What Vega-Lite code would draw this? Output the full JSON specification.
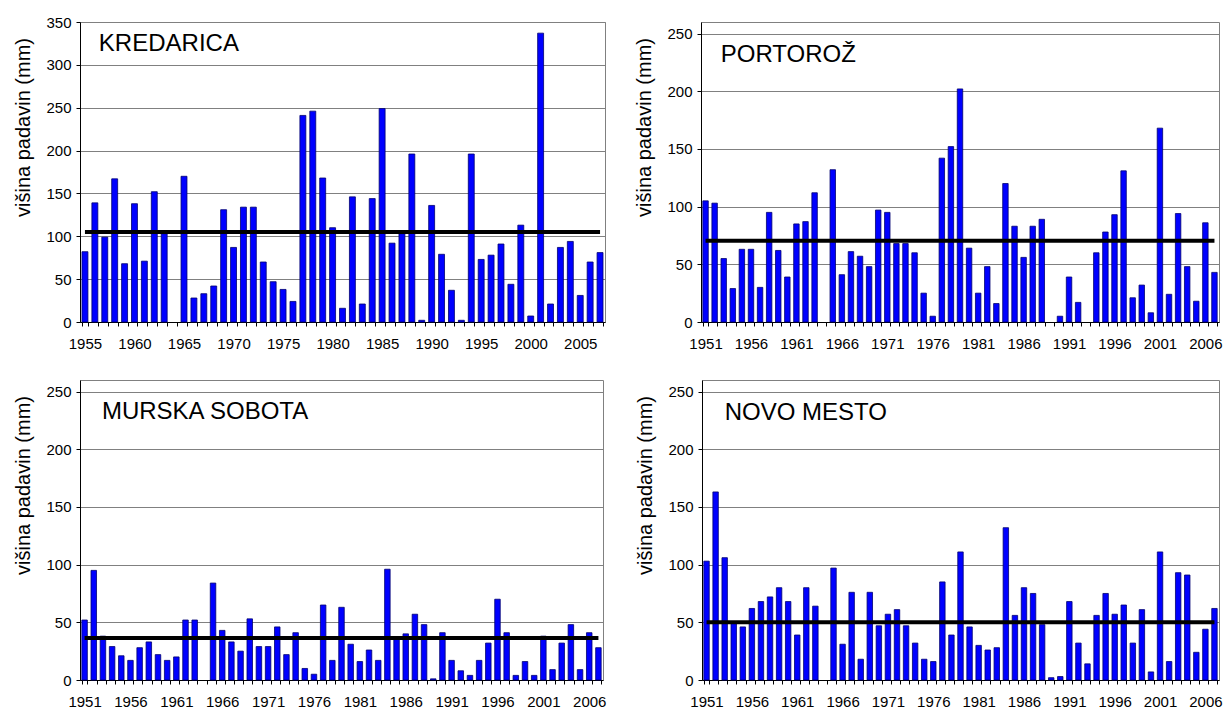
{
  "$schema": "https://vega.github.io/schema/vega-lite/v6.json",
  "background": "white",
  "padding": {"left": 12, "top": 14, "right": 0, "bottom": 0},
  "datasets": {
    "kredarica": [
      {"year":1955,"mm":82},{"year":1956,"mm":139},{"year":1957,"mm":99},{"year":1958,"mm":167},{"year":1959,"mm":68},
      {"year":1960,"mm":138},{"year":1961,"mm":71},{"year":1962,"mm":152},{"year":1963,"mm":103},{"year":1964,"mm":null},
      {"year":1965,"mm":170},{"year":1966,"mm":28},{"year":1967,"mm":33},{"year":1968,"mm":42},{"year":1969,"mm":131},
      {"year":1970,"mm":87},{"year":1971,"mm":134},{"year":1972,"mm":134},{"year":1973,"mm":70},{"year":1974,"mm":47},
      {"year":1975,"mm":38},{"year":1976,"mm":24},{"year":1977,"mm":241},{"year":1978,"mm":246},{"year":1979,"mm":168},
      {"year":1980,"mm":110},{"year":1981,"mm":16},{"year":1982,"mm":146},{"year":1983,"mm":21},{"year":1984,"mm":144},
      {"year":1985,"mm":249},{"year":1986,"mm":92},{"year":1987,"mm":103},{"year":1988,"mm":196},{"year":1989,"mm":2},
      {"year":1990,"mm":136},{"year":1991,"mm":79},{"year":1992,"mm":37},{"year":1993,"mm":2},{"year":1994,"mm":196},
      {"year":1995,"mm":73},{"year":1996,"mm":78},{"year":1997,"mm":91},{"year":1998,"mm":44},{"year":1999,"mm":113},
      {"year":2000,"mm":7},{"year":2001,"mm":337},{"year":2002,"mm":21},{"year":2003,"mm":87},{"year":2004,"mm":94},
      {"year":2005,"mm":31},{"year":2006,"mm":70},{"year":2007,"mm":81}
    ],
    "portoroz": [
      {"year":1951,"mm":105},{"year":1952,"mm":103},{"year":1953,"mm":55},{"year":1954,"mm":29},{"year":1955,"mm":63},
      {"year":1956,"mm":63},{"year":1957,"mm":30},{"year":1958,"mm":95},{"year":1959,"mm":62},{"year":1960,"mm":39},
      {"year":1961,"mm":85},{"year":1962,"mm":87},{"year":1963,"mm":112},{"year":1964,"mm":null},{"year":1965,"mm":132},
      {"year":1966,"mm":41},{"year":1967,"mm":61},{"year":1968,"mm":57},{"year":1969,"mm":48},{"year":1970,"mm":97},
      {"year":1971,"mm":95},{"year":1972,"mm":68},{"year":1973,"mm":68},{"year":1974,"mm":60},{"year":1975,"mm":25},
      {"year":1976,"mm":5},{"year":1977,"mm":142},{"year":1978,"mm":152},{"year":1979,"mm":202},{"year":1980,"mm":64},
      {"year":1981,"mm":25},{"year":1982,"mm":48},{"year":1983,"mm":16},{"year":1984,"mm":120},{"year":1985,"mm":83},
      {"year":1986,"mm":56},{"year":1987,"mm":83},{"year":1988,"mm":89},{"year":1989,"mm":null},{"year":1990,"mm":5},
      {"year":1991,"mm":39},{"year":1992,"mm":17},{"year":1993,"mm":null},{"year":1994,"mm":60},{"year":1995,"mm":78},
      {"year":1996,"mm":93},{"year":1997,"mm":131},{"year":1998,"mm":21},{"year":1999,"mm":32},{"year":2000,"mm":8},
      {"year":2001,"mm":168},{"year":2002,"mm":24},{"year":2003,"mm":94},{"year":2004,"mm":48},{"year":2005,"mm":18},
      {"year":2006,"mm":86},{"year":2007,"mm":43}
    ],
    "murska": [
      {"year":1951,"mm":52},{"year":1952,"mm":95},{"year":1953,"mm":38},{"year":1954,"mm":29},{"year":1955,"mm":21},
      {"year":1956,"mm":17},{"year":1957,"mm":28},{"year":1958,"mm":33},{"year":1959,"mm":22},{"year":1960,"mm":17},
      {"year":1961,"mm":20},{"year":1962,"mm":52},{"year":1963,"mm":52},{"year":1964,"mm":null},{"year":1965,"mm":84},
      {"year":1966,"mm":43},{"year":1967,"mm":33},{"year":1968,"mm":25},{"year":1969,"mm":53},{"year":1970,"mm":29},
      {"year":1971,"mm":29},{"year":1972,"mm":46},{"year":1973,"mm":22},{"year":1974,"mm":41},{"year":1975,"mm":10},
      {"year":1976,"mm":5},{"year":1977,"mm":65},{"year":1978,"mm":17},{"year":1979,"mm":63},{"year":1980,"mm":31},
      {"year":1981,"mm":16},{"year":1982,"mm":26},{"year":1983,"mm":17},{"year":1984,"mm":96},{"year":1985,"mm":37},
      {"year":1986,"mm":40},{"year":1987,"mm":57},{"year":1988,"mm":48},{"year":1989,"mm":1},{"year":1990,"mm":41},
      {"year":1991,"mm":17},{"year":1992,"mm":8},{"year":1993,"mm":4},{"year":1994,"mm":17},{"year":1995,"mm":32},
      {"year":1996,"mm":70},{"year":1997,"mm":41},{"year":1998,"mm":4},{"year":1999,"mm":16},{"year":2000,"mm":4},
      {"year":2001,"mm":38},{"year":2002,"mm":9},{"year":2003,"mm":32},{"year":2004,"mm":48},{"year":2005,"mm":9},
      {"year":2006,"mm":41},{"year":2007,"mm":28}
    ],
    "novomesto": [
      {"year":1951,"mm":103},{"year":1952,"mm":163},{"year":1953,"mm":106},{"year":1954,"mm":49},{"year":1955,"mm":46},
      {"year":1956,"mm":62},{"year":1957,"mm":68},{"year":1958,"mm":72},{"year":1959,"mm":80},{"year":1960,"mm":68},
      {"year":1961,"mm":39},{"year":1962,"mm":80},{"year":1963,"mm":64},{"year":1964,"mm":null},{"year":1965,"mm":97},
      {"year":1966,"mm":31},{"year":1967,"mm":76},{"year":1968,"mm":18},{"year":1969,"mm":76},{"year":1970,"mm":47},
      {"year":1971,"mm":57},{"year":1972,"mm":61},{"year":1973,"mm":47},{"year":1974,"mm":32},{"year":1975,"mm":18},
      {"year":1976,"mm":16},{"year":1977,"mm":85},{"year":1978,"mm":39},{"year":1979,"mm":111},{"year":1980,"mm":46},
      {"year":1981,"mm":30},{"year":1982,"mm":26},{"year":1983,"mm":28},{"year":1984,"mm":132},{"year":1985,"mm":56},
      {"year":1986,"mm":80},{"year":1987,"mm":75},{"year":1988,"mm":48},{"year":1989,"mm":2},{"year":1990,"mm":3},
      {"year":1991,"mm":68},{"year":1992,"mm":32},{"year":1993,"mm":14},{"year":1994,"mm":56},{"year":1995,"mm":75},
      {"year":1996,"mm":57},{"year":1997,"mm":65},{"year":1998,"mm":32},{"year":1999,"mm":61},{"year":2000,"mm":7},
      {"year":2001,"mm":111},{"year":2002,"mm":16},{"year":2003,"mm":93},{"year":2004,"mm":91},{"year":2005,"mm":24},
      {"year":2006,"mm":44},{"year":2007,"mm":62}
    ]
  },
  "vconcat": [
    {
      "hconcat": [
        {
          "width": 525, "height": 300,
          "data": {"name": "kredarica"},
          "layer": [
            {
              "mark": {"type": "bar", "color": "#0000ff", "stroke": "#000070", "strokeWidth": 0.8},
              "encoding": {
                "x": {"field": "year", "type": "ordinal",
                      "scale": {"paddingInner": 0.4, "paddingOuter": 0.2,
                                "domain": [1955,1956,1957,1958,1959,1960,1961,1962,1963,1964,1965,1966,1967,1968,1969,1970,1971,1972,1973,1974,1975,1976,1977,1978,1979,1980,1981,1982,1983,1984,1985,1986,1987,1988,1989,1990,1991,1992,1993,1994,1995,1996,1997,1998,1999,2000,2001,2002,2003,2004,2005,2006,2007]},
                      "axis": {"labelExpr": "datum.value % 5 == 0 ? datum.label : ''"}},
                "y": {"field": "mm", "type": "quantitative", "scale": {"domain": [0, 350]},
                      "axis": {"title": "višina padavin (mm)", "values": [0,50,100,150,200,250,300,350]}}
              }
            },
            {
              "data": {"values": [{"from": 1955, "to": 2007, "mean": 105}]},
              "mark": {"type": "rule", "color": "black", "strokeWidth": 4},
              "encoding": {
                "x": {"field": "from", "type": "ordinal"},
                "x2": {"field": "to"},
                "y": {"field": "mean", "type": "quantitative"}
              }
            },
            {
              "data": {"values": [{"station": "KREDARICA"}]},
              "mark": {"type": "text", "align": "left", "baseline": "alphabetic", "fontSize": 24, "font": "Liberation Sans", "color": "black", "dx": 4},
              "encoding": {
                "x": {"datum": 1956, "type": "ordinal"},
                "y": {"datum": 316, "type": "quantitative"},
                "text": {"field": "station"}
              }
            }
          ]
        },
        {
          "width": 518, "height": 300,
          "data": {"name": "portoroz"},
          "layer": [
            {
              "mark": {"type": "bar", "color": "#0000ff", "stroke": "#000070", "strokeWidth": 0.8},
              "encoding": {
                "x": {"field": "year", "type": "ordinal",
                      "scale": {"paddingInner": 0.4, "paddingOuter": 0.2,
                                "domain": [1951,1952,1953,1954,1955,1956,1957,1958,1959,1960,1961,1962,1963,1964,1965,1966,1967,1968,1969,1970,1971,1972,1973,1974,1975,1976,1977,1978,1979,1980,1981,1982,1983,1984,1985,1986,1987,1988,1989,1990,1991,1992,1993,1994,1995,1996,1997,1998,1999,2000,2001,2002,2003,2004,2005,2006,2007]},
                      "axis": {"labelExpr": "(datum.value - 1951) % 5 == 0 ? datum.label : ''"}},
                "y": {"field": "mm", "type": "quantitative", "scale": {"domain": [0, 250]},
                      "axis": {"title": "višina padavin (mm)", "values": [0,50,100,150,200,250]}}
              }
            },
            {
              "data": {"values": [{"from": 1951, "to": 2007, "mean": 70.5}]},
              "mark": {"type": "rule", "color": "black", "strokeWidth": 4},
              "encoding": {
                "x": {"field": "from", "type": "ordinal"},
                "x2": {"field": "to"},
                "y": {"field": "mean", "type": "quantitative"}
              }
            },
            {
              "data": {"values": [{"station": "PORTOROŽ"}]},
              "mark": {"type": "text", "align": "left", "baseline": "alphabetic", "fontSize": 24, "font": "Liberation Sans", "color": "black", "dx": -3},
              "encoding": {
                "x": {"datum": 1953, "type": "ordinal"},
                "y": {"datum": 225, "type": "quantitative"},
                "text": {"field": "station"}
              }
            }
          ]
        }
      ]
    },
    {
      "hconcat": [
        {
          "width": 523, "height": 300,
          "data": {"name": "murska"},
          "layer": [
            {
              "mark": {"type": "bar", "color": "#0000ff", "stroke": "#000070", "strokeWidth": 0.8},
              "encoding": {
                "x": {"field": "year", "type": "ordinal",
                      "scale": {"paddingInner": 0.4, "paddingOuter": 0.2,
                                "domain": [1951,1952,1953,1954,1955,1956,1957,1958,1959,1960,1961,1962,1963,1964,1965,1966,1967,1968,1969,1970,1971,1972,1973,1974,1975,1976,1977,1978,1979,1980,1981,1982,1983,1984,1985,1986,1987,1988,1989,1990,1991,1992,1993,1994,1995,1996,1997,1998,1999,2000,2001,2002,2003,2004,2005,2006,2007]},
                      "axis": {"labelExpr": "(datum.value - 1951) % 5 == 0 ? datum.label : ''"}},
                "y": {"field": "mm", "type": "quantitative", "scale": {"domain": [0, 250]},
                      "axis": {"title": "višina padavin (mm)", "values": [0,50,100,150,200,250]}}
              }
            },
            {
              "data": {"values": [{"from": 1951, "to": 2007, "mean": 36.5}]},
              "mark": {"type": "rule", "color": "black", "strokeWidth": 4},
              "encoding": {
                "x": {"field": "from", "type": "ordinal"},
                "x2": {"field": "to"},
                "y": {"field": "mean", "type": "quantitative"}
              }
            },
            {
              "data": {"values": [{"station": "MURSKA SOBOTA"}]},
              "mark": {"type": "text", "align": "left", "baseline": "alphabetic", "fontSize": 24, "font": "Liberation Sans", "color": "black", "dx": -1},
              "encoding": {
                "x": {"datum": 1953, "type": "ordinal"},
                "y": {"datum": 226, "type": "quantitative"},
                "text": {"field": "station"}
              }
            }
          ]
        },
        {
          "width": 517, "height": 300,
          "data": {"name": "novomesto"},
          "layer": [
            {
              "mark": {"type": "bar", "color": "#0000ff", "stroke": "#000070", "strokeWidth": 0.8},
              "encoding": {
                "x": {"field": "year", "type": "ordinal",
                      "scale": {"paddingInner": 0.4, "paddingOuter": 0.2,
                                "domain": [1951,1952,1953,1954,1955,1956,1957,1958,1959,1960,1961,1962,1963,1964,1965,1966,1967,1968,1969,1970,1971,1972,1973,1974,1975,1976,1977,1978,1979,1980,1981,1982,1983,1984,1985,1986,1987,1988,1989,1990,1991,1992,1993,1994,1995,1996,1997,1998,1999,2000,2001,2002,2003,2004,2005,2006,2007]},
                      "axis": {"labelExpr": "(datum.value - 1951) % 5 == 0 ? datum.label : ''"}},
                "y": {"field": "mm", "type": "quantitative", "scale": {"domain": [0, 250]},
                      "axis": {"title": "višina padavin (mm)", "values": [0,50,100,150,200,250]}}
              }
            },
            {
              "data": {"values": [{"from": 1951, "to": 2007, "mean": 50}]},
              "mark": {"type": "rule", "color": "black", "strokeWidth": 4},
              "encoding": {
                "x": {"field": "from", "type": "ordinal"},
                "x2": {"field": "to"},
                "y": {"field": "mean", "type": "quantitative"}
              }
            },
            {
              "data": {"values": [{"station": "NOVO MESTO"}]},
              "mark": {"type": "text", "align": "left", "baseline": "alphabetic", "fontSize": 24, "font": "Liberation Sans", "color": "black", "dx": 0},
              "encoding": {
                "x": {"datum": 1953, "type": "ordinal"},
                "y": {"datum": 225, "type": "quantitative"},
                "text": {"field": "station"}
              }
            }
          ]
        }
      ],
      "spacing": 27
    }
  ],
  "spacing": 27,
  "config": {
    "font": "Liberation Sans",
    "view": {"stroke": "#808080", "strokeWidth": 1},
    "concat": {"spacing": 27},
    "axis": {
      "labelFont": "Liberation Sans", "labelFontSize": 15, "labelColor": "black",
      "titleFont": "Liberation Sans", "titleFontSize": 20, "titleFontWeight": "normal", "titleColor": "black",
      "domainColor": "black", "domainWidth": 1, "tickColor": "black", "tickSize": 4, "tickWidth": 1
    },
    "axisX": {"grid": false, "tickBand": "extent", "labelAngle": 0, "labelPadding": 10, "title": null, "labelOverlap": false, "labelFlush": false},
    "axisY": {"grid": true, "gridColor": "#808080", "gridOpacity": 1, "gridWidth": 1, "labelPadding": 5, "titleX": -57, "titleY": 105, "titleAngle": -90, "titleAlign": "center", "titleBaseline": "middle"}
  }
}
